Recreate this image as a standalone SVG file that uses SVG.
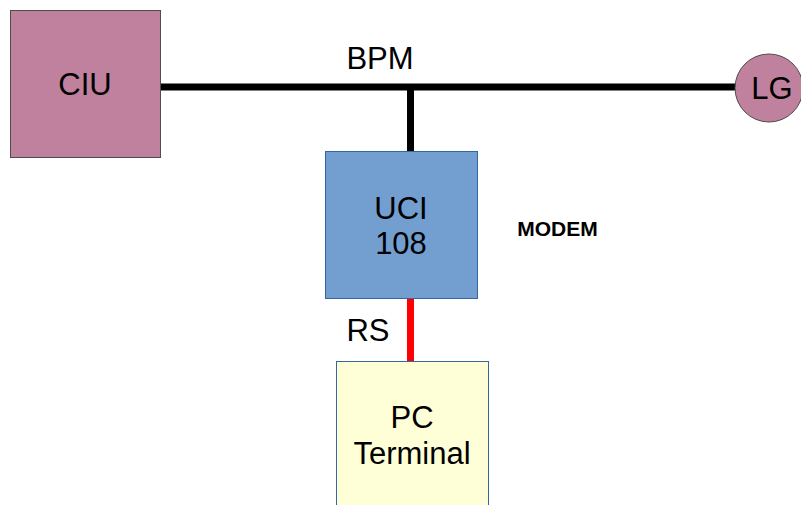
<svg xmlns="http://www.w3.org/2000/svg" width="801" height="505" viewBox="0 0 801 505">
<style>
text{font-family:"Liberation Sans",Arial,sans-serif;font-size:31px;fill:#000;text-anchor:middle}
.pink{fill:#c0819e;stroke:#4d4d4d;stroke-width:1}
.blue{fill:#729fcf;stroke:#3465a4;stroke-width:1}
.yellow{fill:#ffffd7;stroke:#3465a4;stroke-width:1}
.bus{stroke:#000;stroke-width:7;fill:none}
.rs{stroke:#ff0000;stroke-width:7;fill:none}
</style>
<rect width="801" height="505" fill="#fff"/>
<g id="connectors">
<line class="bus" x1="161" y1="87" x2="736" y2="87"/>
<line class="bus" x1="410.5" y1="87" x2="410.5" y2="152"/>
<line class="rs" x1="410.5" y1="298" x2="410.5" y2="361"/>
<text x="380" y="69">BPM</text>
<text x="368" y="341">RS</text>
</g>
<g id="CIU">
<rect class="pink" x="10.5" y="10.5" width="150" height="147"/>
<text x="85" y="95">CIU</text>
</g>
<g id="LG">
<circle class="pink" cx="769" cy="88" r="34"/>
<text x="772" y="99">LG</text>
</g>
<g id="UCI108">
<rect class="blue" x="325.5" y="151.5" width="152" height="147"/>
<text x="401" y="219">UCI</text>
<text x="401" y="254">108</text>
</g>
<g id="MODEM">
<text x="557.5" y="236" style="font-size:21px;font-weight:bold">MODEM</text>
</g>
<g id="PCTerminal">
<rect class="yellow" x="336.5" y="361.5" width="152" height="160"/>
<text x="412" y="428">PC</text>
<text x="412" y="464">Terminal</text>
</g>
</svg>
